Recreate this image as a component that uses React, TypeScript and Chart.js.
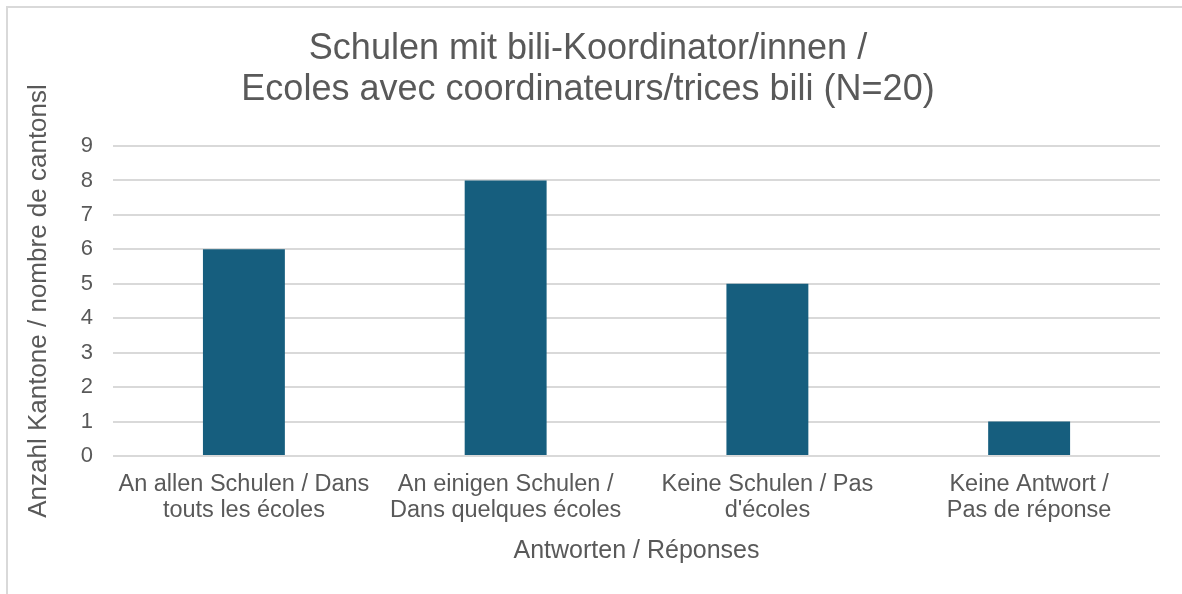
import React, { useEffect, useRef } from "react";
import { Chart, registerables } from "chart.js";

Chart.register(...registerables);

const titleLines = [
  "Schulen mit bili-Koordinator/innen /",
  "Ecoles avec coordinateurs/trices bili (N=20)",
];
const categories: string[][] = [
  ["An allen Schulen / Dans", "touts les écoles"],
  ["An einigen Schulen /", "Dans quelques écoles"],
  ["Keine Schulen / Pas", "d'écoles"],
  ["Keine Antwort /", "Pas de réponse"],
];
const values = [6, 8, 5, 1];
const yAxisTitle = "Anzahl Kantone / nombre de cantonsl";
const xAxisTitle = "Antworten / Réponses";
const yMin = 0;
const yMax = 9;
const yStep = 1;

const FONT = "'Liberation Sans', Arial, Helvetica, sans-serif";
const TEXT = "#595959";
const GRID = "#D9D9D9";
const BAR = "#165E7E";

export default function App() {
  const ref = useRef<HTMLCanvasElement | null>(null);
  useEffect(() => {
    if (!ref.current) return;
    const chart = new Chart(ref.current, {
      type: "bar",
      data: {
        labels: categories,
        datasets: [
          {
            data: values,
            backgroundColor: BAR,
            borderWidth: 0,
            barPercentage: 0.313,
            categoryPercentage: 1,
          },
        ],
      },
      options: {
        animation: false,
        responsive: false,
        maintainAspectRatio: false,
        layout: { padding: { left: 8, right: 22, top: 0, bottom: 28 } },
        plugins: {
          legend: { display: false },
          tooltip: { enabled: false },
          title: {
            display: true,
            text: titleLines,
            color: TEXT,
            font: { family: FONT, size: 36, weight: "normal", lineHeight: "41px" },
            padding: { top: 21, bottom: 35 },
          },
        },
        scales: {
          x: {
            grid: { display: false, drawTicks: false },
            border: { display: false },
            ticks: {
              color: TEXT,
              font: { family: FONT, size: 23.5, lineHeight: "26px" },
              padding: 16,
              maxRotation: 0,
              autoSkip: false,
            },
            title: {
              display: true,
              text: xAxisTitle,
              color: TEXT,
              font: { family: FONT, size: 25, lineHeight: "30px" },
              padding: { top: -4, bottom: 0 },
            },
          },
          y: {
            min: yMin,
            max: yMax,
            grid: { color: GRID, lineWidth: 2, drawTicks: false },
            border: { display: false },
            ticks: {
              stepSize: yStep,
              color: TEXT,
              font: { family: FONT, size: 22 },
              padding: 20,
            },
            title: {
              display: true,
              text: yAxisTitle,
              color: TEXT,
              font: { family: FONT, size: 26, lineHeight: 1.2 },
              padding: { top: 7.4, bottom: 6.2 },
            },
          },
        },
      },
    });
    return () => chart.destroy();
  }, []);
  return (
    <div style={{ position: "fixed", left: 0, top: 0, width: "100vw", height: "100vh", overflow: "hidden" }}>
      <div
        style={{
          position: "absolute",
          left: 6,
          top: 6,
          width: 1200,
          height: 600,
          borderLeft: "2px solid #D9D9D9",
          borderTop: "2px solid #D9D9D9",
        }}
      >
        <canvas
          ref={ref}
          width={1174}
          height={586}
          style={{ display: "block", position: "absolute", left: 0, top: 0 }}
        />
      </div>
    </div>
  );
}
